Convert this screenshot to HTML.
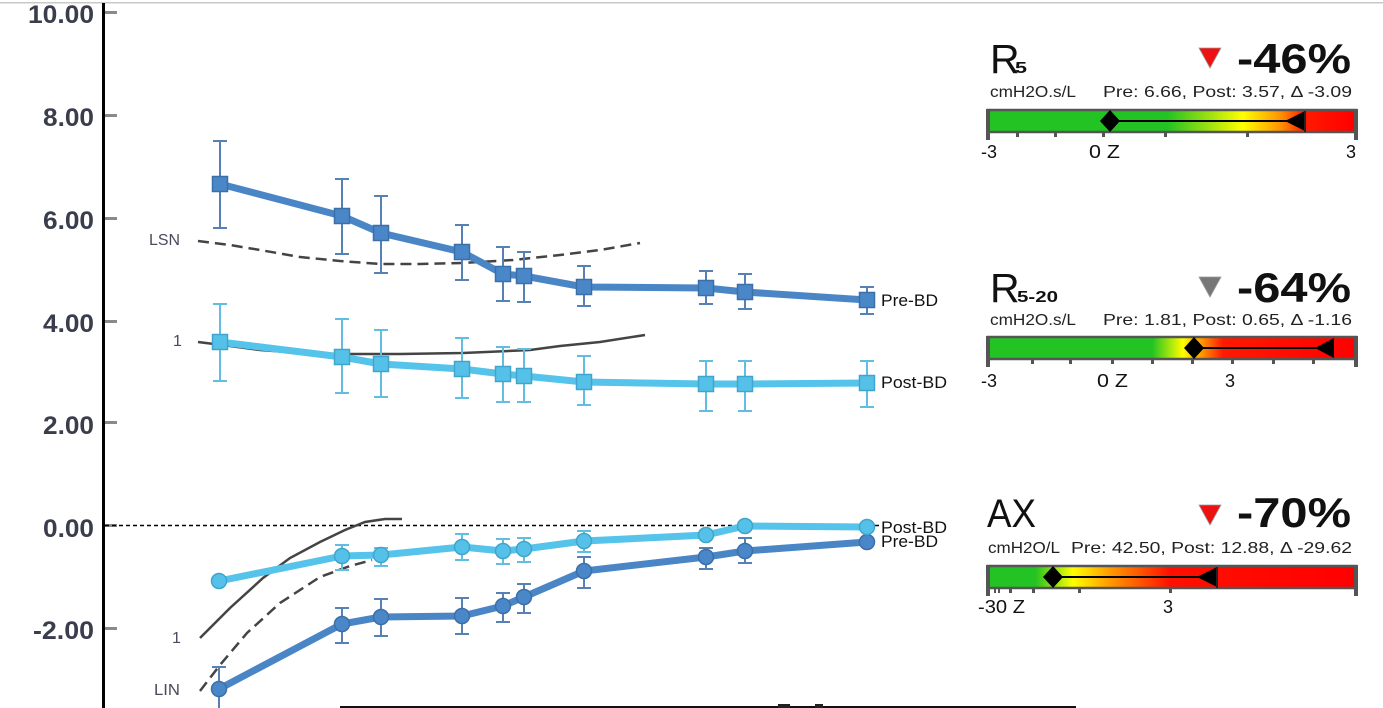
<!DOCTYPE html>
<html><head><meta charset="utf-8"><style>
html,body{margin:0;padding:0;background:#fff;}
svg{display:block;}
text{font-family:"Liberation Sans",sans-serif;}
</style></head><body>
<svg width="1383" height="708" viewBox="0 0 1383 708" xmlns="http://www.w3.org/2000/svg">
<defs>
<linearGradient id="g1" x1="990" x2="1354" y1="0" y2="0" gradientUnits="userSpaceOnUse">
<stop offset="0" stop-color="#22c322"/><stop offset="0.486" stop-color="#22c322"/>
<stop offset="0.6" stop-color="#9be010"/><stop offset="0.695" stop-color="#ffff00"/>
<stop offset="0.80" stop-color="#ff9000"/><stop offset="0.865" stop-color="#ff1a00"/><stop offset="1" stop-color="#ff0000"/>
</linearGradient>
<linearGradient id="g2" x1="990" x2="1354" y1="0" y2="0" gradientUnits="userSpaceOnUse">
<stop offset="0" stop-color="#22c322"/><stop offset="0.445" stop-color="#22c322"/>
<stop offset="0.53" stop-color="#ffff00"/><stop offset="0.585" stop-color="#ff9000"/>
<stop offset="0.64" stop-color="#ff1a00"/><stop offset="1" stop-color="#ff0000"/>
</linearGradient>
<linearGradient id="g3" x1="990" x2="1354" y1="0" y2="0" gradientUnits="userSpaceOnUse">
<stop offset="0" stop-color="#22c322"/><stop offset="0.124" stop-color="#22c322"/>
<stop offset="0.228" stop-color="#ffff00"/><stop offset="0.33" stop-color="#ff9a00"/>
<stop offset="0.495" stop-color="#ff1000"/><stop offset="1" stop-color="#ff0000"/>
</linearGradient>
</defs>

<rect x="0" y="2" width="1383" height="1.5" fill="#c8c8c8"/>

<rect x="102" y="3" width="3" height="705" fill="#000"/>
<g fill="#8a8a8a">
<rect x="105" y="11" width="12" height="3"/>
<rect x="105" y="114" width="12" height="3"/>
<rect x="105" y="217" width="12" height="3"/>
<rect x="105" y="320" width="12" height="3"/>
<rect x="105" y="421" width="12" height="3"/>
<rect x="105" y="524" width="12" height="3"/>
<rect x="105" y="627" width="12" height="3"/>
</g>
<g font-size="25" font-weight="bold" fill="#3a3e4c" text-anchor="end">
<text x="94" y="23" textLength="66" lengthAdjust="spacingAndGlyphs">10.00</text>
<text x="94" y="126" textLength="51" lengthAdjust="spacingAndGlyphs">8.00</text>
<text x="94" y="229" textLength="51" lengthAdjust="spacingAndGlyphs">6.00</text>
<text x="94" y="332" textLength="51" lengthAdjust="spacingAndGlyphs">4.00</text>
<text x="94" y="434" textLength="51" lengthAdjust="spacingAndGlyphs">2.00</text>
<text x="94" y="537" textLength="51" lengthAdjust="spacingAndGlyphs">0.00</text>
<text x="94" y="639" textLength="61" lengthAdjust="spacingAndGlyphs">-2.00</text>
</g>

<g font-size="16" fill="#4a4a5c">
<text x="149" y="245" textLength="31" lengthAdjust="spacingAndGlyphs">LSN</text>
<text x="173" y="346">1</text>
<text x="172" y="643">1</text>
<text x="154" y="695" textLength="26" lengthAdjust="spacingAndGlyphs">LIN</text>
</g>

<line x1="105" y1="525.5" x2="880" y2="525.5" stroke="#000" stroke-width="1.5" stroke-dasharray="4 3"/>

<g fill="none" stroke="#444" stroke-width="2.5">
<polyline stroke-dasharray="11 6" points="198,241 230,245 260,250 300,257 340,261 380,264 420,264 463,263 513,260 560,255 600,250 640,243"/>
<polyline points="198,342 230,346 260,350 300,353 340,354 400,354 463,353 530,350 560,346 600,342 645,335"/>
<polyline points="200,638 230,608 263,578 290,558 320,542 345,530 365,522 385,519 402,519"/>
<polyline stroke-dasharray="11 6" points="200,691 220,665 247,633 280,603 320,577 350,566 372,560"/>
</g>

<g stroke="#5581b5" stroke-width="2" fill="none">
<path d="M220,141V228M213,141H227M213,228H227"/>
<path d="M342,179V254M335,179H349M335,254H349"/>
<path d="M381,196V273M374,196H388M374,273H388"/>
<path d="M462,225V280M455,225H469M455,280H469"/>
<path d="M503,247V301M496,247H510M496,301H510"/>
<path d="M524,252V302M517,252H531M517,302H531"/>
<path d="M584,266V306M577,266H591M577,306H591"/>
<path d="M706,271V304M699,271H713M699,304H713"/>
<path d="M745,274V309M738,274H752M738,309H752"/>
<path d="M867,287V314M860,287H874M860,314H874"/>
<path d="M219,667V708M212,667H226"/>
<path d="M342,608V643M335,608H349M335,643H349"/>
<path d="M381,599V636M374,599H388M374,636H388"/>
<path d="M462,598V634M455,598H469M455,634H469"/>
<path d="M503,593V622M496,593H510M496,622H510"/>
<path d="M524,584V613M517,584H531M517,613H531"/>
<path d="M584,557V588M577,557H591M577,588H591"/>
<path d="M706,548V569M699,548H713M699,569H713"/>
<path d="M745,538V563M738,538H752M738,563H752"/>
</g>
<g stroke="#62bde2" stroke-width="2" fill="none">
<path d="M220,304V381M213,304H227M213,381H227"/>
<path d="M342,319V393M335,319H349M335,393H349"/>
<path d="M381,330V397M374,330H388M374,397H388"/>
<path d="M462,338V398M455,338H469M455,398H469"/>
<path d="M503,347V402M496,347H510M496,402H510"/>
<path d="M524,349V402M517,349H531M517,402H531"/>
<path d="M584,356V405M577,356H591M577,405H591"/>
<path d="M706,361V411M699,361H713M699,411H713"/>
<path d="M745,361V411M738,361H752M738,411H752"/>
<path d="M867,361V407M860,361H874M860,407H874"/>
<path d="M342,545V570M335,545H349M335,570H349"/>
<path d="M381,548V566M374,548H388M374,566H388"/>
<path d="M462,534V560M455,534H469M455,560H469"/>
<path d="M503,539V564M496,539H510M496,564H510"/>
<path d="M524,538V562M517,538H531M517,562H531"/>
<path d="M584,531V552M577,531H591M577,552H591"/>
</g>

<g fill="none" stroke-width="7" stroke-linejoin="round">
<polyline stroke="#4a86c6" points="220,184 342,216 381,233 462,252 503,274 524,276 584,287 706,288 745,292 867,300"/>
<polyline stroke="#55c3ea" points="220,342 342,357 381,364 462,369 503,374 524,376 584,382 706,384 745,384 867,383"/>
<polyline stroke="#55c3ea" points="219,581 342,556 381,555 462,547 503,551 524,549 584,541 706,535 745,526 867,527"/>
<polyline stroke="#4a86c6" points="219,689 342,624 381,617 462,616 503,606 524,597 584,571 706,557 745,551 867,542"/>
</g>

<g fill="#4a87c9" stroke="#3b6fa8" stroke-width="1.5">
<rect x="212.5" y="176.5" width="15" height="15"/>
<rect x="334.5" y="208.5" width="15" height="15"/>
<rect x="373.5" y="225.5" width="15" height="15"/>
<rect x="454.5" y="244.5" width="15" height="15"/>
<rect x="495.5" y="266.5" width="15" height="15"/>
<rect x="516.5" y="268.5" width="15" height="15"/>
<rect x="576.5" y="279.5" width="15" height="15"/>
<rect x="698.5" y="280.5" width="15" height="15"/>
<rect x="737.5" y="284.5" width="15" height="15"/>
<rect x="859.5" y="292.5" width="15" height="15"/>
<circle cx="219" cy="689" r="7.5"/><circle cx="342" cy="624" r="7.5"/><circle cx="381" cy="617" r="7.5"/>
<circle cx="462" cy="616" r="7.5"/><circle cx="503" cy="606" r="7.5"/><circle cx="524" cy="597" r="7.5"/>
<circle cx="584" cy="571" r="7.5"/><circle cx="706" cy="557" r="7.5"/><circle cx="745" cy="551" r="7.5"/>
<circle cx="867" cy="542" r="7.5"/>
</g>
<g fill="#55c1e8" stroke="#40a5cc" stroke-width="1.5">
<rect x="212.5" y="334.5" width="15" height="15"/>
<rect x="334.5" y="349.5" width="15" height="15"/>
<rect x="373.5" y="356.5" width="15" height="15"/>
<rect x="454.5" y="361.5" width="15" height="15"/>
<rect x="495.5" y="366.5" width="15" height="15"/>
<rect x="516.5" y="368.5" width="15" height="15"/>
<rect x="576.5" y="374.5" width="15" height="15"/>
<rect x="698.5" y="376.5" width="15" height="15"/>
<rect x="737.5" y="376.5" width="15" height="15"/>
<rect x="859.5" y="375.5" width="15" height="15"/>
<circle cx="219" cy="581" r="7.5"/><circle cx="342" cy="556" r="7.5"/><circle cx="381" cy="555" r="7.5"/>
<circle cx="462" cy="547" r="7.5"/><circle cx="503" cy="551" r="7.5"/><circle cx="524" cy="549" r="7.5"/>
<circle cx="584" cy="541" r="7.5"/><circle cx="706" cy="535" r="7.5"/><circle cx="745" cy="526" r="7.5"/>
<circle cx="867" cy="527" r="7.5"/>
</g>

<g font-size="17" fill="#111">
<text x="881" y="306" textLength="57" lengthAdjust="spacingAndGlyphs">Pre-BD</text>
<text x="881" y="388" textLength="66" lengthAdjust="spacingAndGlyphs">Post-BD</text>
<text x="881" y="533" textLength="66" lengthAdjust="spacingAndGlyphs">Post-BD</text>
<text x="881" y="547" textLength="57" lengthAdjust="spacingAndGlyphs">Pre-BD</text>
</g>

<rect x="340" y="706" width="736" height="2" fill="#111"/>
<rect x="778" y="704" width="12" height="4" fill="#222"/>
<rect x="815" y="704" width="8" height="4" fill="#222"/>

<!-- Panel 1 -->
<text x="990" y="73" font-size="41" fill="#111">R</text>
<text x="1015" y="73" font-size="16" font-weight="bold" fill="#111" textLength="12" lengthAdjust="spacingAndGlyphs">5</text>
<polygon points="1199,48 1221,48 1210,68" fill="#ee1111" stroke="#999" stroke-width="0.8"/>
<text x="1237" y="73" font-size="42" font-weight="bold" fill="#111" textLength="114" lengthAdjust="spacingAndGlyphs">-46%</text>
<text x="990" y="97" font-size="16" fill="#222" textLength="86" lengthAdjust="spacingAndGlyphs">cmH2O.s/L</text>
<text x="1103" y="97" font-size="16" fill="#222" textLength="249" lengthAdjust="spacingAndGlyphs">Pre: 6.66, Post: 3.57, Δ -3.09</text>
<rect x="988" y="110" width="368" height="22" fill="url(#g1)" stroke="#555" stroke-width="2.5"/>
<rect x="986" y="109" width="4" height="31" fill="#555"/>
<rect x="1354" y="109" width="4" height="31" fill="#555"/>
<g fill="#555">
<rect x="1016" y="132" width="3" height="5"/><rect x="1054" y="132" width="3" height="5"/>
<rect x="1102" y="132" width="3" height="5"/><rect x="1164" y="132" width="3" height="5"/>
<rect x="1246" y="132" width="3" height="5"/>
</g>
<line x1="1110" y1="121" x2="1290" y2="121" stroke="#000" stroke-width="2"/>
<polygon points="1110,110 1120,121 1110,132 1100,121" fill="#000"/>
<polygon points="1285,121 1305,111 1305,131" fill="#000"/>
<rect x="1304" y="111" width="2" height="21" fill="#222"/>
<g font-size="18" fill="#111">
<text x="981" y="158" textLength="16" lengthAdjust="spacingAndGlyphs">-3</text>
<text x="1089" y="158" textLength="31" lengthAdjust="spacingAndGlyphs">0 Z</text>
<text x="1346" y="158">3</text>
</g>

<!-- Panel 2 -->
<text x="990" y="302" font-size="41" fill="#111">R</text>
<text x="1017" y="302" font-size="16" font-weight="bold" fill="#111" textLength="41" lengthAdjust="spacingAndGlyphs">5-20</text>
<polygon points="1199,277 1221,277 1210,297" fill="#777" stroke="#999" stroke-width="0.8"/>
<text x="1237" y="302" font-size="42" font-weight="bold" fill="#111" textLength="114" lengthAdjust="spacingAndGlyphs">-64%</text>
<text x="990" y="325" font-size="16" fill="#222" textLength="86" lengthAdjust="spacingAndGlyphs">cmH2O.s/L</text>
<text x="1103" y="325" font-size="16" fill="#222" textLength="249" lengthAdjust="spacingAndGlyphs">Pre: 1.81, Post: 0.65, Δ -1.16</text>
<rect x="988" y="337" width="368" height="22" fill="url(#g2)" stroke="#555" stroke-width="2.5"/>
<rect x="986" y="336" width="4" height="31" fill="#555"/>
<rect x="1354" y="336" width="4" height="31" fill="#555"/>
<g fill="#555">
<rect x="1031" y="359" width="3" height="5"/><rect x="1069" y="359" width="3" height="5"/>
<rect x="1111" y="359" width="3" height="5"/><rect x="1151" y="359" width="3" height="5"/>
<rect x="1191" y="359" width="3" height="5"/><rect x="1231" y="359" width="3" height="5"/>
<rect x="1272" y="359" width="3" height="5"/><rect x="1312" y="359" width="3" height="5"/>
</g>
<line x1="1194" y1="348" x2="1320" y2="348" stroke="#000" stroke-width="2"/>
<polygon points="1194,337 1204,348 1194,359 1184,348" fill="#000"/>
<polygon points="1315,348 1334,338 1334,358" fill="#000"/>
<g font-size="18" fill="#111">
<text x="981" y="387" textLength="16" lengthAdjust="spacingAndGlyphs">-3</text>
<text x="1097" y="387" textLength="31" lengthAdjust="spacingAndGlyphs">0 Z</text>
<text x="1225" y="387">3</text>
</g>

<!-- Panel 3 -->
<text x="987" y="527" font-size="40" fill="#111" textLength="49" lengthAdjust="spacingAndGlyphs">AX</text>
<polygon points="1199,505 1221,505 1210,525" fill="#ee1111" stroke="#999" stroke-width="0.8"/>
<text x="1237" y="527" font-size="42" font-weight="bold" fill="#111" textLength="114" lengthAdjust="spacingAndGlyphs">-70%</text>
<text x="988" y="553" font-size="16" fill="#222" textLength="72" lengthAdjust="spacingAndGlyphs">cmH2O/L</text>
<text x="1071" y="553" font-size="16" fill="#222" textLength="281" lengthAdjust="spacingAndGlyphs">Pre: 42.50, Post: 12.88, Δ -29.62</text>
<rect x="988" y="566" width="368" height="22" fill="url(#g3)" stroke="#555" stroke-width="2.5"/>
<rect x="986" y="565" width="4" height="31" fill="#555"/>
<rect x="1354" y="565" width="4" height="31" fill="#555"/>
<g fill="#555">
<rect x="994" y="588" width="2" height="5"/><rect x="998" y="588" width="2" height="5"/>
<rect x="1009" y="588" width="3" height="5"/><rect x="1032" y="588" width="3" height="5"/>
<rect x="1078" y="588" width="3" height="5"/><rect x="1169" y="588" width="3" height="5"/>
</g>
<line x1="1053" y1="577" x2="1200" y2="577" stroke="#000" stroke-width="2"/>
<polygon points="1053,566 1063,577 1053,588 1043,577" fill="#000"/>
<polygon points="1197,577 1217,567 1217,587" fill="#000"/>
<rect x="1216" y="567" width="2" height="21" fill="#222"/>
<g font-size="18" fill="#111">
<text x="978" y="613" textLength="47" lengthAdjust="spacingAndGlyphs">-30 Z</text>
<text x="1163" y="613">3</text>
</g>
</svg>
</body></html>
